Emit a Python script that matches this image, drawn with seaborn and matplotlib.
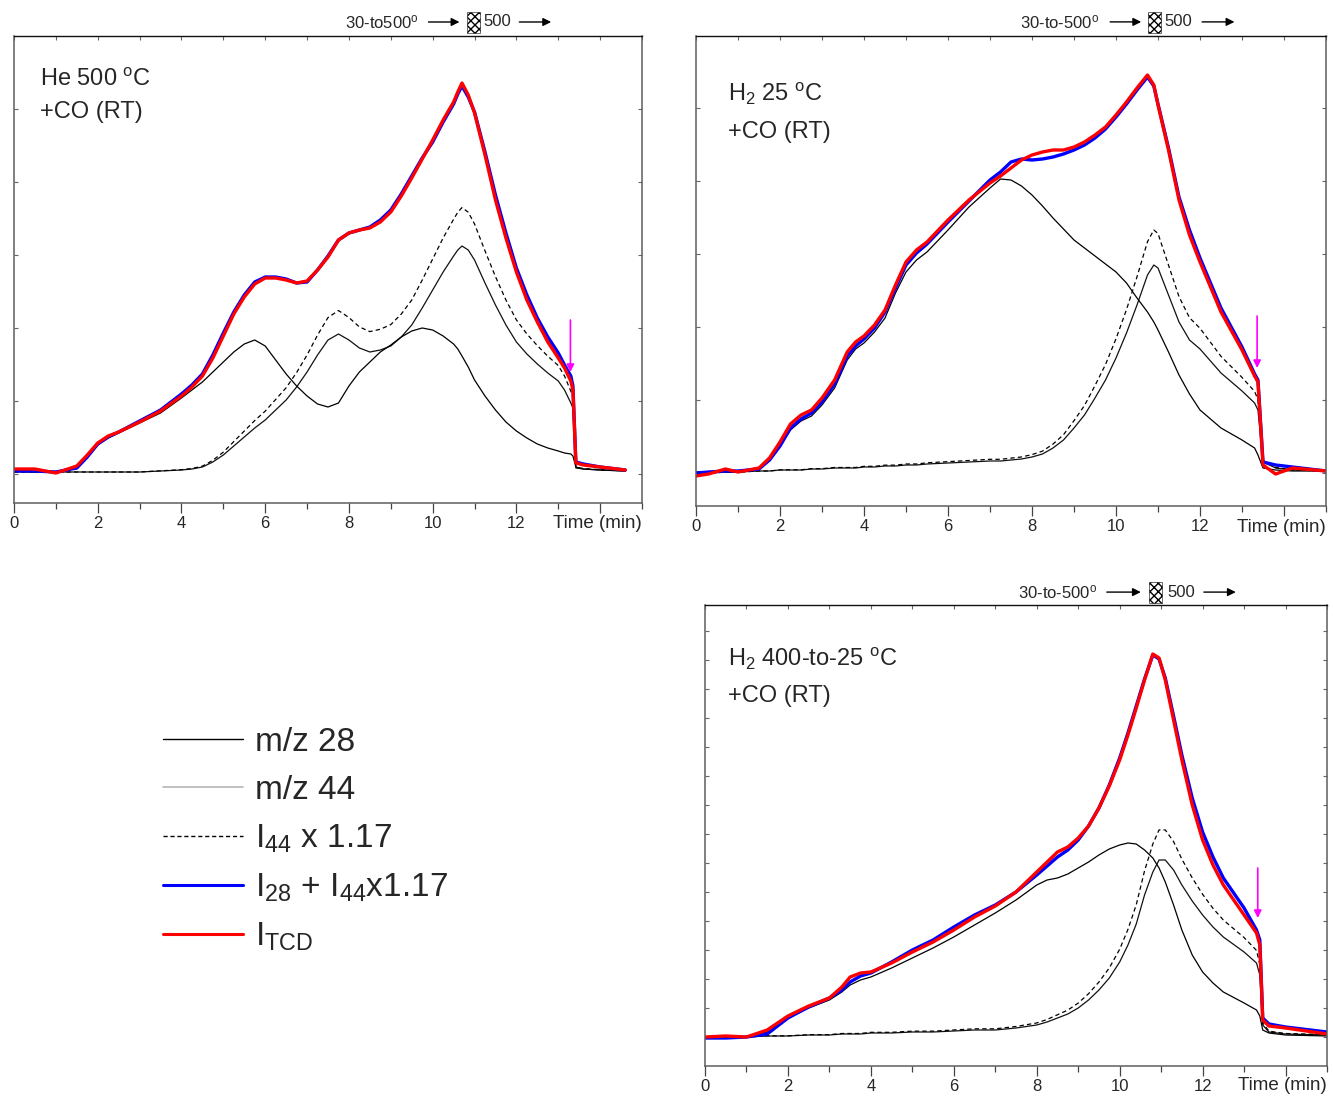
import numpy as np
import pandas as pd
import seaborn as sns
import matplotlib.pyplot as plt
from matplotlib.lines import Line2D
from matplotlib.patches import Rectangle
from matplotlib.transforms import blended_transform_factory
from matplotlib.ticker import FixedLocator

# ---------------------------------------------------------------
# Data: signals above baseline (a.u.) versus time (min)
# ---------------------------------------------------------------
SCALE_44 = 1.17

# Panel A: He 500 C + CO (RT)
time_a = [0, 0.5, 1, 1.5, 1.75, 2, 2.25, 2.5, 3, 3.5, 4, 4.25, 4.5, 4.75, 5, 5.25, 5.5, 5.75,
          6, 6.25, 6.5, 6.75, 7, 7.25, 7.5, 7.75, 8, 8.25, 8.5, 8.75, 9, 9.25, 9.5, 9.75, 10,
          10.25, 10.5, 10.6, 10.7, 10.85, 11, 11.25, 11.5, 11.75, 12, 12.25, 12.5, 12.75, 13,
          13.15, 13.3, 13.35, 13.42, 13.6, 14, 14.6]
tcd_a = [3, 3, -1, 6, 17, 29, 36, 40, 50, 61, 76, 85, 96, 114, 136, 158, 175, 188,
         194, 194, 192, 189, 191, 202, 215, 232, 239, 242, 244, 250, 260, 276, 294, 313, 332,
         352, 370, 380, 389, 377, 359, 317, 272, 234, 200, 172, 150, 130, 114,
         104, 91, 82, 9, 7, 5, 2]
sum_a = [1, 1, 0, 4, 15, 28, 35, 40, 51, 62, 78, 87, 98, 117, 139, 160, 177, 190,
         195, 195, 193, 189, 190, 202, 216, 232, 239, 242, 245, 252, 262, 278, 296, 314, 330,
         350, 368, 378, 386, 375, 360, 320, 277, 239, 204, 177, 154, 135, 119,
         107, 96, 86, 10, 8, 5, 2]
mz28_a = [1, 0, 0, 5, 15, 27, 34, 39, 49, 59, 74, 82, 90, 100, 110, 120, 128, 132,
          126, 112, 98, 86, 76, 68, 65, 69, 86, 100, 110, 120, 127, 135, 141, 144, 142,
          136, 128, 123, 116, 105, 92, 76, 62, 50, 41, 34, 28, 24, 21,
          19, 18, 16, 5, 3, 2, 1]
mz44_a = [0, 0, 0, 0, 0, 0, 0, 0, 0, 1, 2, 3, 5, 10, 17, 26, 35, 44,
          52, 62, 72, 85, 100, 117, 132, 138, 132, 124, 120, 122, 126, 135, 147, 164, 182,
          200, 216, 222, 226, 222, 212, 189, 167, 147, 130, 118, 108, 99, 91,
          82, 69, 64, 4, 3, 2, 1]

# Panel B: H2 25 C + CO (RT)
time_b = [0, 0.3, 0.7, 1, 1.5, 1.75, 2, 2.25, 2.5, 2.75, 3, 3.3, 3.6, 3.8, 4, 4.25, 4.5, 4.75,
          5, 5.25, 5.5, 6, 6.5, 7, 7.25, 7.5, 7.75, 8, 8.25, 8.5, 8.75, 9, 9.25, 9.5, 9.75,
          10, 10.25, 10.5, 10.75, 10.9, 11, 11.25, 11.5, 11.75, 12, 12.5, 13, 13.3, 13.38,
          13.5, 13.8, 14.2, 15]
tcd_b = [-5, -3, 2, -1, 3, 13, 29, 47, 56, 61, 73, 91, 119, 129, 135, 146, 161, 186,
         209, 221, 229, 251, 271, 288, 295, 303, 311, 316, 319, 321, 321, 324, 329, 336, 344,
         356, 369, 383, 396, 386, 366, 321, 271, 236, 209, 159, 121, 95, 89,
         6, -3, 3, 0]
sum_b = [-2, -1, 0, 0, 2, 11, 25, 43, 52, 58, 69, 87, 115, 125, 132, 143, 159, 183,
         206, 218, 227, 249, 270, 291, 299, 309, 312, 311, 312, 314, 317, 321, 326, 333, 342,
         354, 367, 381, 394, 385, 367, 323, 274, 241, 213, 163, 124, 97, 91,
         9, 6, 4, 0]
mz28_b = [-1, -1, -1, -1, 2, 11, 25, 41, 50, 55, 66, 83, 111, 122, 128, 139, 153, 178,
          199, 211, 219, 241, 264, 283, 292, 291, 285, 276, 265, 253, 242, 231, 223, 215, 207,
          199, 188, 173, 159, 149, 141, 119, 96, 77, 61, 43, 31, 23, 16,
          3, 1, 0, 0]
mz44_b = [-2, -2, -1, -1, 0, 0, 1, 1, 1, 2, 2, 3, 3, 3, 4, 4, 5, 5,
          6, 6, 7, 8, 9, 10, 10, 11, 12, 14, 17, 23, 31, 43, 56, 73, 91,
          113, 138, 166, 196, 206, 203, 176, 149, 131, 122, 98, 80, 68, 61,
          9, 3, 1, 0]

# Panel C: H2 400-to-25 C + CO (RT)
time_c = [0, 0.5, 1, 1.5, 1.75, 2, 2.5, 3, 3.3, 3.5, 3.75, 4, 4.5, 5, 5.5, 6, 6.5, 7, 7.5, 8,
          8.25, 8.5, 8.75, 9, 9.25, 9.5, 9.75, 10, 10.2, 10.4, 10.6, 10.8, 10.95, 11.1, 11.3,
          11.5, 11.75, 12, 12.25, 12.5, 13, 13.3, 13.38, 13.45, 13.6, 14, 15]
tcd_c = [0, 1, 0, 7, 14, 21, 31, 39, 50, 60, 64, 65, 74, 85, 95, 107, 120, 131, 145, 165,
         175, 185, 190, 199, 211, 229, 251, 277, 302, 329, 357, 383, 379, 357, 317,
         277, 232, 197, 172, 152, 122, 104, 92, 17, 11, 9, 3]
sum_c = [-1, -1, 0, 3, 11, 19, 30, 39, 47, 55, 61, 64, 75, 87, 97, 110, 122, 132, 145, 162,
         171, 180, 187, 197, 211, 229, 252, 279, 304, 331, 358, 382, 378, 359, 321,
         282, 239, 205, 180, 159, 129, 107, 97, 19, 13, 10, 5]
mz28_c = [0, 0, 0, 5, 12, 19, 29, 37, 45, 52, 57, 60, 69, 79, 89, 100, 112, 124, 137, 152,
          157, 159, 163, 169, 175, 182, 188, 192, 194, 193, 187, 179, 169, 155, 132,
          107, 82, 65, 54, 45, 34, 27, 21, 7, 4, 2, 1]
mz44_c = [0, 0, 0, 1, 1, 1, 2, 2, 3, 3, 3, 4, 4, 5, 5, 6, 7, 7, 9, 12,
          15, 19, 23, 29, 37, 47, 59, 75, 92, 113, 142, 165, 177, 177, 167,
          152, 136, 122, 110, 100, 85, 74, 62, 12, 5, 3, 2]

panel_titles = [(r"He 500 $^{\rm o}$C", "+CO (RT)"),
                (r"H$_{2}$ 25 $^{\rm o}$C", "+CO (RT)"),
                (r"H$_{2}$ 400-to-25 $^{\rm o}$C", "+CO (RT)")]
program_labels = [r"30-to500$^{\rm o}$", r"30-to-500$^{\rm o}$", r"30-to-500$^{\rm o}$"]
legend_labels = ["m/z 28", "m/z 44", r"I$_{44}$ x 1.17",
                 r"I$_{28}$ + I$_{44}$x1.17", r"I$_{\rm TCD}$"]

# ---------------------------------------------------------------
# Style
# ---------------------------------------------------------------
sns.set_theme(style="white")
plt.rcParams["font.family"] = ["Liberation Sans", "DejaVu Sans"]
plt.rcParams["mathtext.fontset"] = "custom"
plt.rcParams["mathtext.rm"] = "Liberation Sans"
plt.rcParams["mathtext.it"] = "Liberation Sans:italic"
plt.rcParams["mathtext.bf"] = "Liberation Sans:bold"

C_SUM = "#0000ff"
C_TCD = "#ff0000"
C_ARROW = "#ff00ff"

fig = plt.figure(figsize=(13.33, 10.98), dpi=100)

W, H = 1333, 1098


def add_axes_px(left, top, right, bottom):
    return fig.add_axes([left / W, 1 - bottom / H, (right - left) / W, (bottom - top) / H])


ax_a = add_axes_px(14, 36, 642, 503)
ax_b = add_axes_px(696, 36, 1326, 506)
ax_c = add_axes_px(705, 605, 1327, 1066)

panels = [
    dict(ax=ax_a, t=time_a, tcd=tcd_a, s=sum_a, m28=mz28_a, m44=mz44_a,
         ylim=(-31, 436), ystep=73, ystart=-2, title_pos=(0.041, 0.905, 0.838),
         arrow=(13.29, 152, 100), label_off=-20,
         prog=(7.9, 9.9, 10.64, 10.81, 11.12, 11.21, 12.07, 12.83, 1.030, 1.006, 1.051)),
    dict(ax=ax_b, t=time_b, tcd=tcd_b, s=sum_b, m28=mz28_b, m44=mz44_b,
         ylim=(-35, 435), ystep=73, ystart=-2, title_pos=(0.051, 0.877, 0.796),
         arrow=(13.36, 155, 103), label_off=-22,
         prog=(7.71, 9.86, 10.6, 10.76, 11.07, 11.15, 12.05, 12.82, 1.030, 1.006, 1.051)),
    dict(ax=ax_c, t=time_c, tcd=tcd_c, s=sum_c, m28=mz28_c, m44=mz44_c,
         ylim=(-29, 432), ystep=29, ystart=0, title_pos=(0.037, 0.883, 0.803),
         arrow=(13.33, 169, 119), label_off=-20,
         prog=(7.56, 9.69, 10.51, 10.70, 11.01, 11.16, 12.03, 12.80, 1.028, 1.004, 1.050)),
]

for i, p in enumerate(panels):
    ax = p["ax"]
    df = pd.DataFrame({"t": p["t"], "tcd": p["tcd"], "sum": p["s"],
                       "m28": p["m28"], "m44": p["m44"]})
    df["m44s"] = df["m44"] * SCALE_44

    common = dict(ax=ax, estimator=None, sort=False, legend=False)
    sns.lineplot(data=df, x="t", y="m44", color="#111111", linewidth=0.9, **common)
    sns.lineplot(data=df, x="t", y="m28", color="black", linewidth=0.9, **common)
    sns.lineplot(data=df, x="t", y="m44s", color="black", linewidth=0.9,
                 linestyle=(0, (3.5, 2.5)), **common)
    sns.lineplot(data=df, x="t", y="sum", color=C_SUM, linewidth=2.4, **common)
    sns.lineplot(data=df, x="t", y="tcd", color=C_TCD, linewidth=2.4, **common)

    ax.set_xlim(0, 15)
    ax.set_ylim(*p["ylim"])
    ax.set_xlabel("")
    ax.set_ylabel("")

    # x ticks: labelled even minutes, plain odd ones
    ax.set_xticks(range(0, 16, 2), labels=[str(v) if v <= 12 else "" for v in range(0, 16, 2)])
    ax.xaxis.set_minor_locator(FixedLocator(list(range(1, 16, 2))))
    ax.tick_params(axis="x", which="major", direction="out", length=7, width=0.9,
                   color="#444444", labelsize=12, pad=2.5, bottom=True, top=False)
    ax.tick_params(axis="x", which="minor", direction="out", length=4.5, width=0.9,
                   color="#444444", bottom=True, top=False)
    # y ticks: short, inward, on both sides, unlabelled
    ax.set_yticks(np.arange(p["ystart"], p["ylim"][1], p["ystep"]))
    ax.tick_params(axis="y", which="major", direction="in", length=3, width=0.8,
                   color="#666666", left=True, right=True, labelleft=False)
    # short inward ticks along the top edge
    top = ax.secondary_xaxis("top")
    top.set_xticks(range(0, 16))
    top.tick_params(direction="in", length=3, width=0.8, color="#666666", labeltop=False)
    top.spines["top"].set_visible(False)

    for side in ["left", "right", "bottom"]:
        ax.spines[side].set_color("#5e5e5e")
        ax.spines[side].set_linewidth(1.1)
    ax.spines["top"].set_color("#111111")
    ax.spines["top"].set_linewidth(1.0)

    ax.annotate("Time (min)", xy=(1, 0), xycoords="axes fraction",
                xytext=(0, p["label_off"] * 0.72), textcoords="offset points",
                ha="right", va="center", fontsize=13.5)

    # sample description
    tx, ty1, ty2 = p["title_pos"]
    ax.text(tx, ty1, panel_titles[i][0], transform=ax.transAxes, fontsize=17,
            ha="left", va="center")
    ax.text(tx, ty2, panel_titles[i][1], transform=ax.transAxes, fontsize=17,
            ha="left", va="center")

    # end-of-ramp marker
    ax_x, y_tail, y_tip = p["arrow"]
    ax.annotate("", xy=(ax_x, y_tip), xytext=(ax_x, y_tail),
                arrowprops=dict(arrowstyle="-|>", color=C_ARROW, lw=1.2,
                                mutation_scale=11, shrinkA=0, shrinkB=0))

    # temperature programme above the frame
    (x_txt, a1s, a1e, bx0, bx1, x500, a2s, a2e, yc, yb0, yb1) = p["prog"]
    tr = blended_transform_factory(ax.transData, ax.transAxes)
    ax.text(x_txt, yc, program_labels[i], transform=tr, fontsize=12,
            ha="left", va="center", clip_on=False)
    for s0, s1 in [(a1s, a1e), (a2s, a2e)]:
        ax.annotate("", xy=(s1, yc), xytext=(s0, yc), xycoords=tr, textcoords=tr,
                    arrowprops=dict(arrowstyle="-|>", color="black", lw=1.0,
                                    mutation_scale=12, shrinkA=0, shrinkB=0),
                    annotation_clip=False)
    ax.add_patch(Rectangle((bx0, yb0), bx1 - bx0, yb1 - yb0, transform=tr,
                           facecolor="white", edgecolor="black", lw=0.4,
                           hatch="xxxx", clip_on=False))
    ax.text(x500, yc, "500", transform=tr, fontsize=12,
            ha="left", va="center", clip_on=False)

# legend in the empty lower-left area
handles = [Line2D([], [], color="black", lw=1.0),
           Line2D([], [], color="#b5b5b5", lw=1.2),
           Line2D([], [], color="black", lw=1.0, ls=(0, (3, 2))),
           Line2D([], [], color=C_SUM, lw=2.2),
           Line2D([], [], color=C_TCD, lw=2.2)]
fig.legend(handles, legend_labels, loc="upper left",
           bbox_to_anchor=(163 / W, 1 - 727 / H), frameon=False, fontsize=24,
           handlelength=2.4, handletextpad=0.36, labelspacing=0.5,
           borderpad=0, borderaxespad=0)

fig.savefig("out.png", dpi=100)
